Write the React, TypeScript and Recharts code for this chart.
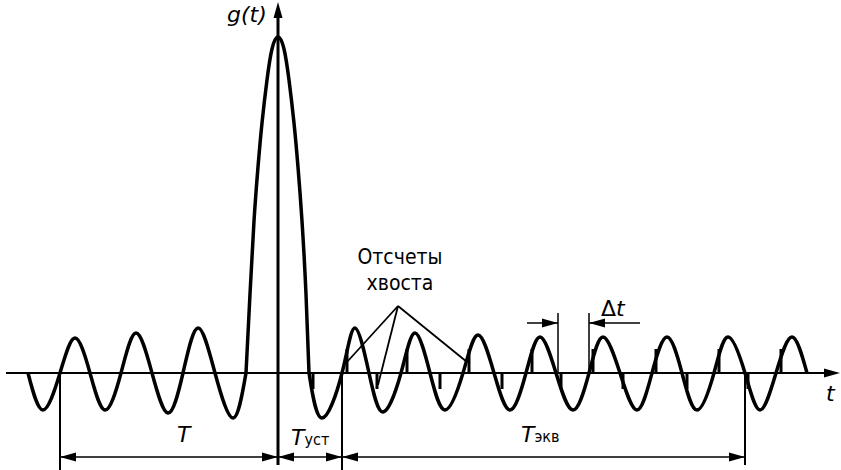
import { ComposedChart, Line, XAxis, YAxis, ReferenceLine, Scatter } from 'recharts'

// t runs along the axis, g is the height above the t axis (same units as the drawing)
const leftT = [28, 43, 60, 75, 90, 105, 121, 136, 152, 168, 183, 198, 215, 233, 246]
const leftG = [0, -37, 0, 35, 0, -37, 0, 40, 0, -40, 0, 45, 0, -45, 0]

const lobeT = [246, 250, 254, 258, 262, 267, 272, 278, 284, 289, 294, 298, 302, 306, 309]
const lobeG = [0, 79, 152, 206, 250, 293, 324, 336, 324, 293, 250, 206, 152, 79, 0]

const rightT = [309, 322, 342, 355, 369, 383, 401, 415, 430, 445, 463, 478, 494, 510, 526, 540,
  556, 573, 589, 603, 620, 637, 652, 667, 682, 697, 714, 728, 745, 760, 776, 792, 807]
const rightG = [0, -45, 0, 45, 0, -39, 0, 40, 0, -37, 0, 38, 0, -37, 0, 36,
  0, -37, 0, 36, 0, -37, 0, 36, 0, -37, 0, 36, 0, -37, 0, 36, 0]

// tail samples, Δt apart
const sampleT = [313, 347, 377, 407, 440, 469, 502, 532, 561, 593, 623, 656, 687, 719, 748, 781]
const sampleG = [-16, 24, -16, 24, -16, 24, -16, 24, -16, 24, -16, 24, -16, 24, -16, 24]

// dimension marks
const dimY = -84
const extT = [60, 342, 745]
const extTop = [0, 2, 0]
const extBottom = [-97, -97, -92]
const deltaT = [558, 589]
const leaderFrom = { t: 398, g: 67 }
const leaderToT = [347, 378, 467]
const leaderToG = [11, -12, 11]

const arrowT = [840, 278, 60, 278, 278, 342, 342, 745, 558, 589]
const arrowG = [0, 371, dimY, dimY, dimY, dimY, dimY, dimY, 50, 50]
const arrowDir = ['r', 'u', 'l', 'r', 'l', 'r', 'l', 'r', 'r', 'l']

const toPts = (ts: number[], gs: number[]) => ts.map((t, i) => ({ t, v: gs[i] }))

function ArrowHead(props: any) {
  const { cx, cy, payload } = props
  const L = 16, W = 4.5
  let pts = ''
  if (payload.dir === 'r') pts = `${cx},${cy} ${cx - L},${cy - W} ${cx - L},${cy + W}`
  if (payload.dir === 'l') pts = `${cx},${cy} ${cx + L},${cy - W} ${cx + L},${cy + W}`
  if (payload.dir === 'u') pts = `${cx},${cy} ${cx - W},${cy + L} ${cx + W},${cy + L}`
  return <polygon points={pts} fill="#000" />
}

const ital = { fontFamily: '"DejaVu Sans"', fontStyle: 'italic' as const, fontSize: 22, lineHeight: 1, position: 'absolute' as const }
const sub = { fontFamily: '"DejaVu Sans Condensed", "DejaVu Sans"', fontStyle: 'normal' as const, fontSize: 16 }
const note = { fontFamily: '"DejaVu Sans Condensed", "DejaVu Sans"', fontSize: 21, lineHeight: 1, position: 'absolute' as const, width: 120, textAlign: 'center' as const }

const curve = { stroke: '#000', strokeWidth: 3.5, dot: false, activeDot: false, legendType: 'none' as const, isAnimationActive: false }

export default function App() {
  const arrows = arrowT.map((t, i) => ({ t, v: arrowG[i], dir: arrowDir[i] }))
  return (
    <div style={{ position: 'absolute', left: 0, top: 0, width: 841, height: 470, background: '#fff' }}>
      <ComposedChart width={841} height={470} margin={{ top: 0, right: 0, bottom: 0, left: 0 }}>
        <XAxis type="number" dataKey="t" domain={[0, 841]} hide allowDataOverflow />
        <YAxis type="number" dataKey="v" domain={[-97, 373]} hide allowDataOverflow />

        {/* axes */}
        <ReferenceLine segment={[{ x: 6, y: 0 }, { x: 830, y: 0 }]} stroke="#000" strokeWidth={2} ifOverflow="visible" />
        <ReferenceLine segment={[{ x: 278, y: -92 }, { x: 278, y: 360 }]} stroke="#000" strokeWidth={3} ifOverflow="visible" />

        {/* extension + dimension lines */}
        {extT.map((t, i) => (
          <ReferenceLine key={'e' + t} segment={[{ x: t, y: extTop[i] }, { x: t, y: extBottom[i] }]} stroke="#000" strokeWidth={2} ifOverflow="visible" />
        ))}
        <ReferenceLine segment={[{ x: 60, y: dimY }, { x: 745, y: dimY }]} stroke="#000" strokeWidth={1.5} ifOverflow="visible" />

        {/* Δt */}
        {deltaT.map(t => (
          <ReferenceLine key={'d' + t} segment={[{ x: t, y: 0 }, { x: t, y: 60 }]} stroke="#000" strokeWidth={1.5} ifOverflow="visible" />
        ))}
        <ReferenceLine segment={[{ x: 527, y: 50 }, { x: 558, y: 50 }]} stroke="#000" strokeWidth={1.5} ifOverflow="visible" />
        <ReferenceLine segment={[{ x: 589, y: 50 }, { x: 640, y: 50 }]} stroke="#000" strokeWidth={1.5} ifOverflow="visible" />

        {/* leaders to tail samples */}
        {leaderToT.map((t, i) => (
          <ReferenceLine key={'l' + t} segment={[{ x: leaderFrom.t, y: leaderFrom.g }, { x: t, y: leaderToG[i] }]} stroke="#000" strokeWidth={1.8} ifOverflow="visible" />
        ))}

        {/* samples */}
        {sampleT.map((t, i) => (
          <ReferenceLine key={'s' + t} segment={[{ x: t, y: 0 }, { x: t, y: sampleG[i] }]} stroke="#000" strokeWidth={3} ifOverflow="visible" />
        ))}

        <Line data={toPts(leftT, leftG)} dataKey="v" type="natural" {...curve} />
        <Line data={toPts(lobeT, lobeG)} dataKey="v" type="natural" {...curve} />
        <Line data={toPts(rightT, rightG)} dataKey="v" type="natural" {...curve} />

        <Scatter data={arrows} dataKey="v" shape={ArrowHead} isAnimationActive={false} />
      </ComposedChart>

      <div style={{ ...ital, left: 227, top: 4 }}>g(t)</div>
      <div style={{ ...ital, left: 826, top: 383 }}>t</div>
      <div style={{ ...ital, left: 177, top: 424 }}>T</div>
      <div style={{ ...ital, left: 291, top: 427 }}>T<span style={sub}>уст</span></div>
      <div style={{ ...ital, left: 521, top: 424 }}>T<span style={sub}>экв</span></div>
      <div style={{ ...ital, fontStyle: 'normal', left: 601, top: 298 }}>Δ<span style={{ fontStyle: 'italic' }}>t</span></div>
      <div style={{ ...note, left: 340, top: 247 }}>Отсчеты</div>
      <div style={{ ...note, left: 340, top: 273 }}>хвоста</div>
    </div>
  )
}
